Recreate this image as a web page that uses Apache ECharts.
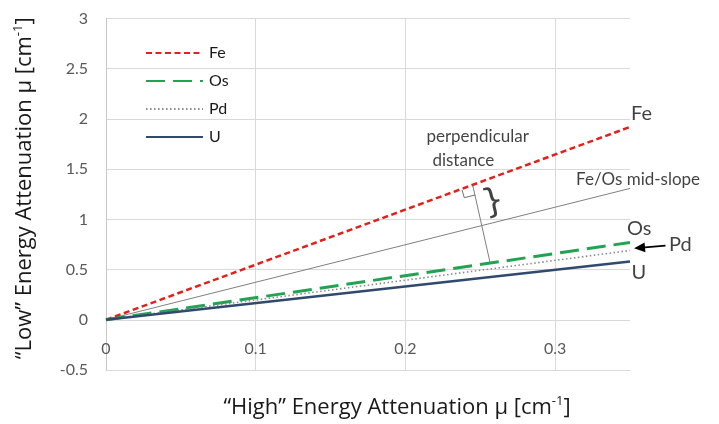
<!DOCTYPE html>
<html><head><meta charset="utf-8">
<script src="https://cdn.jsdelivr.net/npm/echarts@6/dist/echarts.min.js"></script>
<style>html,body{margin:0;padding:0;background:#fff}#c{width:719px;height:424px}</style>
</head><body><div id="c"></div>
<script>
// ---- data ----
const seriesNames = ['Fe', 'Os', 'Pd', 'U'];
const highEnergy = [0, 0.35];
const feLow = [0, 1.92];
const osLow = [0, 0.77];
const pdLow = [0, 0.69];
const uLow = [0, 0.58];
const midSlopeX = [0, 0.35];
const midSlopeY = [0, 1.308];
const perpX = [0.245, 0.2565];
const perpY = [1.336, 0.571];
const rightAngleX = [0.2378, 0.2393, 0.2467];
const rightAngleY = [1.293, 1.216, 1.243];
const arrowX = [0.3737, 0.3527];
const arrowY = [0.738, 0.712];
const xTickValues = [0, 0.1, 0.2, 0.3];
const yTickValues = [-0.5, 0, 0.5, 1, 1.5, 2, 2.5, 3];
const annotationTexts = ['Fe', 'Os', 'Pd', 'U', 'Fe/Os mid-slope', 'perpendicular', 'distance'];
const annotationX = [0.3507, 0.348, 0.376, 0.351, 0.314, 0.214, 0.218];
const annotationY = [2.05, 0.904, 0.745, 0.466, 1.392, 1.82, 1.59];
const annotationSizes = [20, 20, 20, 20, 17, 17, 17];

const FONT = 'Lato, "Open Sans", sans-serif';
const TITLE_FONT = '"Open Sans", Lato, sans-serif';
const pairs = (xs, ys) => xs.map((x, i) => [x, ys[i]]);

const lineSeries = [
  { name: 'Fe', data: pairs(highEnergy, feLow), color: '#e3211c', width: 2.5, type: [6, 3.5] },
  { name: 'Os', data: pairs(highEnergy, osLow), color: '#22a352', width: 3, type: [19, 8] },
  { name: 'Pd', data: pairs(highEnergy, pdLow), color: '#8a8a8a', width: 1.6, type: [1.5, 2.5] },
  { name: 'U', data: pairs(highEnergy, uLow), color: '#2f4a6d', width: 2.5, type: 'solid' }
].map(s => ({
  name: s.name, type: 'line', data: s.data, symbol: 'none', z: 5,
  itemStyle: { color: s.color },
  lineStyle: { color: s.color, width: s.width, type: s.type },
  animation: false
}));

const thinGray = { color: '#808080', width: 1 };
const titleRich = {
  a: { fontSize: 22, color: '#1a1a1a', fontFamily: TITLE_FONT, lineHeight: 26 },
  s: { fontSize: 13, color: '#1a1a1a', fontFamily: TITLE_FONT, verticalAlign: 'top', lineHeight: 26, padding: [0, 0, 9, 0] }
};

const option = {
  animation: false,
  backgroundColor: '#fff',
  textStyle: { fontFamily: FONT },
  grid: { left: 106, right: 89, top: 18.5, bottom: 54, containLabel: false, outerBoundsMode: 'none' },
  legend: {
    data: seriesNames,
    orient: 'vertical', left: 140, top: 39,
    itemWidth: 57, itemHeight: 14, itemGap: 10,
    itemStyle: { opacity: 0, borderWidth: 0 },
    textStyle: { fontSize: 16, color: '#1a1a1a', fontFamily: FONT, lineHeight: 18, backgroundColor: '#fff', padding: [0, 3, 0, 1] },
    selectedMode: false
  },
  xAxis: {
    type: 'value', min: 0, max: 0.35, interval: 0.1,
    axisLine: { show: true, onZero: false, lineStyle: { color: '#d9d9d9', width: 1 } },
    axisTick: { show: false },
    axisLabel: {
      inside: true, fontSize: 16, color: '#595959', margin: 13, fontFamily: FONT,
      showMaxLabel: false,
      formatter: v => xTickValues.some(t => Math.abs(t - v) < 1e-9) ? String(+v.toFixed(2)) : ''
    },
    splitLine: { show: true, showMaxLine: false, lineStyle: { color: '#d9d9d9', width: 1 } },
    name: '{a|\u201cHigh\u201d Energy Attenuation \u03bc [cm}{s|-1}{a|]}',
    nameLocation: 'middle', nameGap: 25,
    nameTextStyle: { padding: [0, 0, 0, 58], rich: titleRich }
  },
  yAxis: {
    type: 'value', min: -0.5, max: 3, interval: 0.5,
    axisLine: { show: true, onZero: false, lineStyle: { color: '#c8c8c8', width: 1 } },
    axisTick: { show: false },
    axisLabel: {
      fontSize: 16, color: '#595959', margin: 18, fontFamily: FONT,
      formatter: v => yTickValues.some(t => Math.abs(t - v) < 1e-9) ? String(v) : ''
    },
    splitLine: { show: true, lineStyle: { color: '#d9d9d9', width: 1 } },
    name: '{a|\u201cLow\u201d Energy Attenuation \u03bc [cm}{s|-1}{a|]}',
    nameLocation: 'middle', nameGap: 68,
    nameTextStyle: { padding: [0, 0, 0, 12], rich: titleRich }
  },
  series: [
    {
      name: 'midSlope', type: 'line', data: pairs(midSlopeX, midSlopeY), symbol: 'none',
      lineStyle: thinGray, itemStyle: { color: '#808080' }, clip: false, z: 3, silent: true
    },
    {
      name: 'perp', type: 'line', data: pairs(perpX, perpY), symbol: 'none',
      lineStyle: thinGray, itemStyle: { color: '#808080' }, clip: false, z: 3, silent: true
    },
    {
      name: 'rightAngle', type: 'line', data: pairs(rightAngleX, rightAngleY), symbol: 'none',
      lineStyle: { color: '#707070', width: 1 }, itemStyle: { color: '#707070' }, clip: false, z: 3, silent: true
    },
    ...lineSeries,
    {
      name: 'annotations', type: 'scatter', symbolSize: 0, clip: false, silent: true, z: 10,
      data: annotationTexts.map((t, i) => ({
        value: [annotationX[i], annotationY[i]],
        label: { show: true, formatter: t, fontSize: annotationSizes[i] }
      })),
      label: { show: true, position: 'right', distance: 0, color: '#111', fontFamily: FONT }
    },
    {
      name: 'brace', type: 'scatter', symbolSize: 0, clip: false, silent: true, z: 10,
      data: [{ value: [0.2587, 1.162] }],
      label: { show: true, formatter: '}', position: 'inside', rotate: 14, fontSize: 34, color: '#111', fontFamily: '"DejaVu Sans", sans-serif' }
    }
  ]
};

const chart = echarts.init(document.getElementById('c'), null, { renderer: 'canvas' });
chart.setOption(option);

// Pd arrow: positioned from data coordinates through the chart's own scales
const p0 = chart.convertToPixel({ gridIndex: 0 }, [arrowX[0], arrowY[0]]);
const p1 = chart.convertToPixel({ gridIndex: 0 }, [arrowX[1], arrowY[1]]);
const dx = p1[0] - p0[0], dy = p1[1] - p0[1];
const len = Math.hypot(dx, dy);
const ux = dx / len, uy = dy / len;
const headLen = 11, headHalf = 5;
const base = [p1[0] - ux * headLen, p1[1] - uy * headLen];
chart.setOption({
  graphic: [
    { type: 'line', shape: { x1: p0[0], y1: p0[1], x2: base[0], y2: base[1] }, style: { stroke: '#000', lineWidth: 1.6 }, z: 20 },
    { type: 'polygon', shape: { points: [p1, [base[0] - uy * headHalf, base[1] + ux * headHalf], [base[0] + uy * headHalf, base[1] - ux * headHalf]] }, style: { fill: '#000' }, z: 20 }
  ]
});
</script>
</body></html>
